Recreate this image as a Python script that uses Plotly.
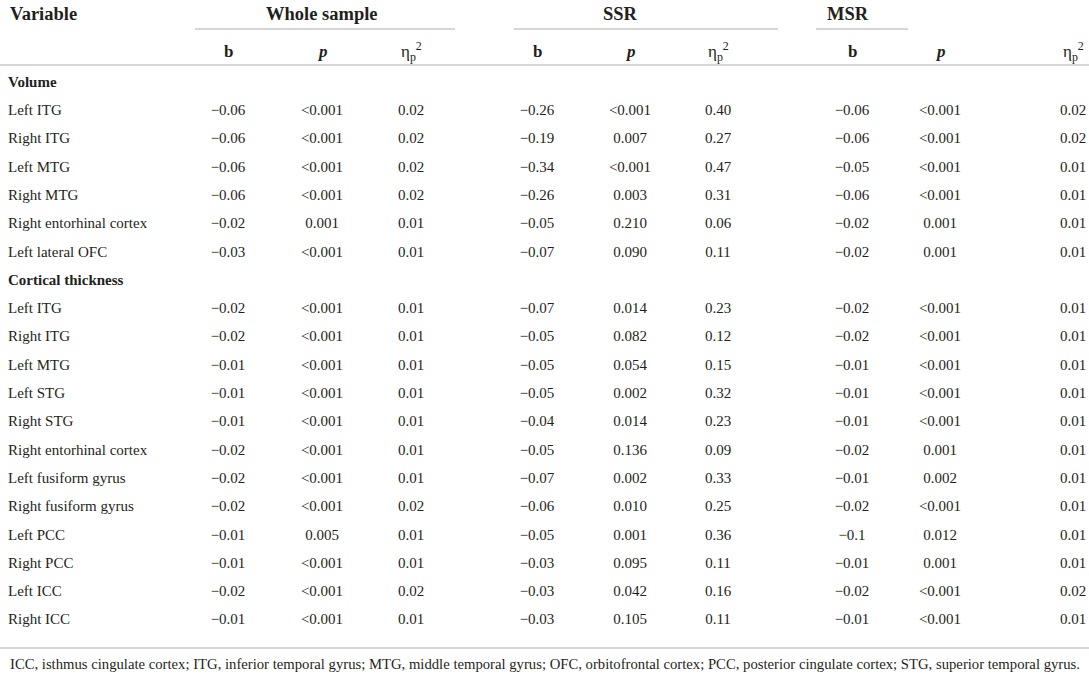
import plotly.graph_objects as go

# table content
sections = ["Volume", "Cortical thickness"]
volume_vars = ["Left ITG", "Right ITG", "Left MTG", "Right MTG",
               "Right entorhinal cortex", "Left lateral OFC"]
thickness_vars = ["Left ITG", "Right ITG", "Left MTG", "Left STG", "Right STG",
                  "Right entorhinal cortex", "Left fusiform gyrus", "Right fusiform gyrus",
                  "Left PCC", "Right PCC", "Left ICC", "Right ICC"]

groups = ["Whole sample", "SSR", "MSR"]
subheads = ["<b>b</b>", "<b><i>p</i></b>", "η<sub>p</sub><sup>2</sup>"]

# whole sample (volume rows first, then cortical thickness rows)
ws_b = ["−0.06", "−0.06", "−0.06", "−0.06", "−0.02", "−0.03",
        "−0.02", "−0.02", "−0.01", "−0.01", "−0.01", "−0.02", "−0.02", "−0.02",
        "−0.01", "−0.01", "−0.02", "−0.01"]
ws_p = ["<0.001", "<0.001", "<0.001", "<0.001", "0.001", "<0.001",
        "<0.001", "<0.001", "<0.001", "<0.001", "<0.001", "<0.001", "<0.001", "<0.001",
        "0.005", "<0.001", "<0.001", "<0.001"]
ws_eta = ["0.02", "0.02", "0.02", "0.02", "0.01", "0.01",
          "0.01", "0.01", "0.01", "0.01", "0.01", "0.01", "0.01", "0.02",
          "0.01", "0.01", "0.02", "0.01"]

# SSR
ssr_b = ["−0.26", "−0.19", "−0.34", "−0.26", "−0.05", "−0.07",
         "−0.07", "−0.05", "−0.05", "−0.05", "−0.04", "−0.05", "−0.07", "−0.06",
         "−0.05", "−0.03", "−0.03", "−0.03"]
ssr_p = ["<0.001", "0.007", "<0.001", "0.003", "0.210", "0.090",
         "0.014", "0.082", "0.054", "0.002", "0.014", "0.136", "0.002", "0.010",
         "0.001", "0.095", "0.042", "0.105"]
ssr_eta = ["0.40", "0.27", "0.47", "0.31", "0.06", "0.11",
           "0.23", "0.12", "0.15", "0.32", "0.23", "0.09", "0.33", "0.25",
           "0.36", "0.11", "0.16", "0.11"]

# MSR
msr_b = ["−0.06", "−0.06", "−0.05", "−0.06", "−0.02", "−0.02",
         "−0.02", "−0.02", "−0.01", "−0.01", "−0.01", "−0.02", "−0.01", "−0.02",
         "−0.1", "−0.01", "−0.02", "−0.01"]
msr_p = ["<0.001", "<0.001", "<0.001", "<0.001", "0.001", "0.001",
         "<0.001", "<0.001", "<0.001", "<0.001", "<0.001", "0.001", "0.002", "<0.001",
         "0.012", "0.001", "<0.001", "<0.001"]
msr_eta = ["0.02", "0.02", "0.01", "0.01", "0.01", "0.01",
           "0.01", "0.01", "0.01", "0.01", "0.01", "0.01", "0.01", "0.01",
           "0.01", "0.01", "0.02", "0.01"]

footnote = ("ICC, isthmus cingulate cortex; ITG, inferior temporal gyrus; MTG, middle temporal gyrus; "
            "OFC, orbitofrontal cortex; PCC, posterior cingulate cortex; STG, superior temporal gyrus.")

# layout (pixels)
W, H = 1089, 676
FONT = "Liberation Serif"
TXT = "#231f20"
LINE = "#c8c8c8"
col_x = [[228, 322, 411], [537, 630, 718], [852, 940, 1073]]
group_x = [322, 620, 848]
group_lines = [(195, 455), (514, 778), (816, 908)]
row0, step = 83, 28.3

# row positions: section header, then its rows
y_vol_head = row0
y_vol = [row0 + step * (i + 1) for i in range(len(volume_vars))]
y_thk_head = row0 + step * (len(volume_vars) + 1)
y_thk = [y_thk_head + step * (i + 1) for i in range(len(thickness_vars))]
y_body = y_vol + y_thk

fig = go.Figure()

body_font = dict(family=FONT, size=15, color=TXT)
fig.add_trace(go.Scatter(x=[8] * len(y_body), y=y_body, text=volume_vars + thickness_vars,
                         mode="text", textposition="middle right", textfont=body_font))
fig.add_trace(go.Scatter(x=[8, 8], y=[y_vol_head, y_thk_head], text=["<b>%s</b>" % s for s in sections],
                         mode="text", textposition="middle right", textfont=body_font))

columns = [[ws_b, ws_p, ws_eta], [ssr_b, ssr_p, ssr_eta], [msr_b, msr_p, msr_eta]]
for g, cols in enumerate(columns):
    for c, vals in enumerate(cols):
        fig.add_trace(go.Scatter(x=[col_x[g][c]] * len(vals), y=y_body, text=vals,
                                 mode="text", textposition="middle center", textfont=body_font))

# headers
head_font = dict(family=FONT, size=18.5, color=TXT)
ann = [dict(x=8, y=14, text="<b>Variable</b>", xanchor="left", font=head_font)]
for g, name in enumerate(groups):
    ann.append(dict(x=group_x[g], y=14, text="<b>%s</b>" % name, xanchor="center", font=head_font))
    for c, sh in enumerate(subheads):
        ann.append(dict(x=col_x[g][c], y=51, text=sh, xanchor="center",
                        font=dict(family=FONT, size=17, color=TXT)))
ann.append(dict(x=8, y=664, text=footnote, xanchor="left", font=dict(family=FONT, size=14.7, color=TXT)))
for a in ann:
    a.update(xref="x", yref="y", showarrow=False, yanchor="middle")

shapes = [dict(type="line", x0=a, x1=b, y0=29, y1=29) for a, b in group_lines]
shapes += [dict(type="line", x0=0, x1=W, y0=65, y1=65),
           dict(type="line", x0=0, x1=W, y0=648, y1=648)]
for s in shapes:
    s.update(xref="x", yref="y", line=dict(color=LINE, width=1.5))

fig.update_layout(
    width=W, height=H,
    margin=dict(l=0, r=0, t=0, b=0),
    paper_bgcolor="white", plot_bgcolor="white",
    showlegend=False,
    xaxis=dict(range=[0, W], visible=False, fixedrange=True),
    yaxis=dict(range=[H, 0], visible=False, fixedrange=True),
    annotations=ann, shapes=shapes,
)

# drop the page margin so the figure fills the window exactly
fig.write_html("out.html", config={"displayModeBar": False},
               post_script="document.body.style.margin='0';document.body.style.overflow='hidden';")
